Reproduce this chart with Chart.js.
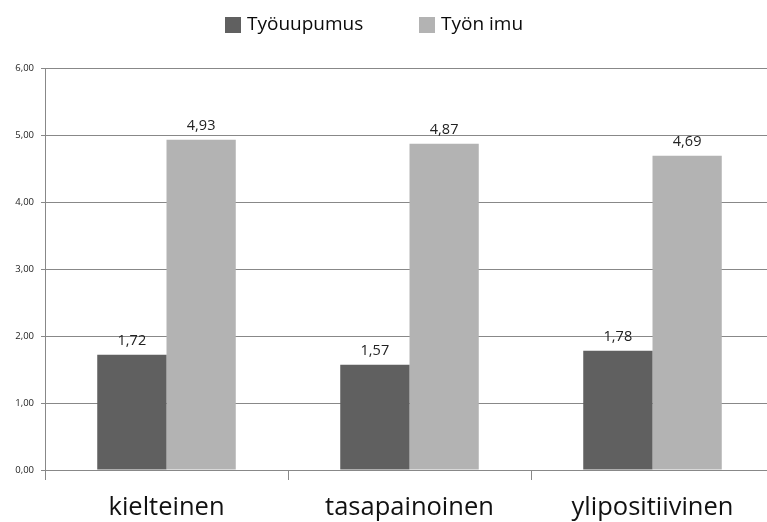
<!DOCTYPE html>
<html><head><meta charset="utf-8">
<script src="https://cdn.jsdelivr.net/npm/chart.js@4/dist/chart.umd.min.js"></script>
<style>html,body{margin:0;padding:0;overflow:hidden;background:#fff}#wrap{width:774px;height:522px}</style>
</head><body><div id="wrap"><canvas id="c" width="774" height="522"></canvas></div>
<script>
const categories = ["kielteinen", "tasapainoinen", "ylipositiivinen"];
const seriesNames = ["Työuupumus", "Työn imu"];
const tyouupumus = [1.72, 1.57, 1.78];
const tyonImu = [4.93, 4.87, 4.69];
const yTicks = [0, 1, 2, 3, 4, 5, 6];
const colors = ["#606060", "#b3b3b3"];
const FONT = "'Open Sans', sans-serif";
const fmt = v => v.toFixed(2).replace('.', ',');

const valueLabels = {
  id: 'valueLabels',
  afterDatasetsDraw(chart) {
    const ctx = chart.ctx;
    ctx.save();
    ctx.font = "14.5px " + FONT;
    ctx.fillStyle = "#222";
    ctx.textAlign = "center";
    ctx.textBaseline = "alphabetic";
    chart.data.datasets.forEach((ds, i) => {
      chart.getDatasetMeta(i).data.forEach((bar, j) => {
        ctx.fillText(fmt(ds.data[j]), bar.x, bar.y - 10);
      });
    });
    ctx.restore();
  }
};
const customLegend = {
  id: 'customLegend',
  afterDraw(chart) {
    const ctx = chart.ctx;
    ctx.save();
    ctx.font = "19px " + FONT;
    ctx.textBaseline = "middle";
    const xs = [225, 419];
    seriesNames.forEach((n, i) => {
      ctx.fillStyle = colors[i];
      ctx.fillRect(xs[i], 17, 16, 16);
      ctx.fillStyle = "#0a0a0a";
      ctx.fillText(n, xs[i] + 22, 25);
    });
    ctx.restore();
  }
};

new Chart(document.getElementById('c'), {
  type: 'bar',
  data: {
    labels: categories,
    datasets: [
      { label: seriesNames[0], data: tyouupumus, backgroundColor: colors[0], borderWidth: 0 },
      { label: seriesNames[1], data: tyonImu, backgroundColor: colors[1], borderWidth: 0 }
    ]
  },
  options: {
    responsive: false,
    animation: false,
    devicePixelRatio: 1,
    layout: { padding: { top: 68, right: 0, left: 0, bottom: 0 } },
    plugins: { legend: { display: false }, tooltip: { enabled: false } },
    datasets: { bar: { categoryPercentage: 0.57, barPercentage: 1.0 } },
    scales: {
      x: {
        grid: { offset: true, drawOnChartArea: false, color: "#888", tickLength: 10, tickColor: "#888" },
        border: { color: "#888" },
        ticks: { font: { size: 25.5, family: FONT }, color: "#111", padding: 12, maxRotation: 0 },
        afterFit: s => { s.height = 52; }
      },
      y: {
        min: 0, max: 6,
        afterBuildTicks: s => { s.ticks = yTicks.map(v => ({ value: v })); },
        grid: { color: "#888", tickLength: 4, tickColor: "#888" },
        border: { color: "#888" },
        ticks: { font: { size: 9.5, family: FONT }, color: "#222", padding: 7, callback: v => fmt(v) },
        afterFit: s => { s.width = 45; }
      }
    }
  },
  plugins: [valueLabels, customLegend]
});
</script></body></html>
